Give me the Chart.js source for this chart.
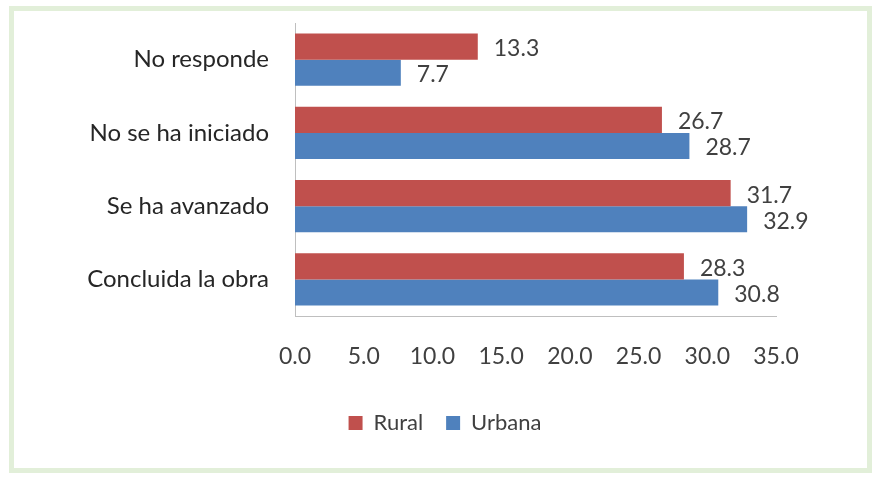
<!DOCTYPE html>
<html>
<head>
<meta charset="utf-8">
<script src="https://cdn.jsdelivr.net/npm/chart.js@4/dist/chart.umd.min.js"></script>
<style>
  html, body { margin: 0; padding: 0; background: #fff; }
  #wrap { position: relative; width: 877px; height: 485px; }
  #marco {
    position: absolute; left: 9px; top: 6px; width: 853px; height: 457px;
    border: 5px solid #e2efd9;
  }
  #grafico { position: absolute; left: 0; top: 0; }
</style>
</head>
<body>
<div id="wrap">
  <div id="marco"></div>
  <canvas id="grafico" width="877" height="485"></canvas>
</div>
<script>
// Estado de avance de la obra, por área
const categorias = ["No responde", "No se ha iniciado", "Se ha avanzado", "Concluida la obra"];
const rural = [13.3, 26.7, 31.7, 28.3];
const urbana = [7.7, 28.7, 32.9, 30.8];
const ejeX = { min: 0, max: 35, paso: 5 };

const fuente = "Lato, 'Open Sans', sans-serif";

// Escribe el valor a la derecha de cada barra
const etiquetasValor = {
  id: "etiquetasValor",
  afterDatasetsDraw(chart) {
    const ctx = chart.ctx;
    ctx.save();
    ctx.font = "23px " + fuente;
    ctx.fillStyle = "#404040";
    ctx.textBaseline = "middle";
    ctx.textAlign = "left";
    chart.data.datasets.forEach((ds, i) => {
      chart.getDatasetMeta(i).data.forEach((barra, j) => {
        ctx.fillText(ds.data[j].toFixed(1), barra.x + 16, barra.y + 2);
      });
    });
    ctx.restore();
  }
};

// Desplaza la leyenda hacia la derecha, bajo el centro del área de barras
const moverLeyenda = {
  id: "moverLeyenda",
  afterLayout(chart) {
    const l = chart.legend;
    if (!l) return;
    l.left += 57;
    l.right += 57;
  }
};

const ctx = document.getElementById("grafico").getContext("2d");
new Chart(ctx, {
  type: "bar",
  data: {
    labels: categorias,
    datasets: [
      { label: "Rural", data: rural, backgroundColor: "#c0504d" },
      { label: "Urbana", data: urbana, backgroundColor: "#4f81bd" }
    ]
  },
  options: {
    indexAxis: "y",
    responsive: false,
    animation: false,
    layout: { padding: { top: 23, right: 101, bottom: 41, left: 0 } },
    datasets: { bar: { categoryPercentage: 0.71, barPercentage: 1.0 } },
    scales: {
      x: {
        min: ejeX.min,
        max: ejeX.max,
        grid: { display: false, drawTicks: false },
        border: { display: true, color: "#bfbfbf", width: 1 },
        ticks: {
          stepSize: ejeX.paso,
          padding: 27,
          color: "#404040",
          font: { family: fuente, size: 23 },
          callback: (v) => Number(v).toFixed(1),
          maxRotation: 0
        },
        afterFit: (eje) => { eje.height = 73; }
      },
      y: {
        grid: { display: false, drawTicks: false },
        border: { display: true, color: "#bfbfbf", width: 1 },
        ticks: {
          padding: 26,
          color: "#262626",
          font: { family: fuente, size: 24 }
        },
        afterFit: (eje) => {
          eje.width = 295;
          eje.paddingTop = 0;
          eje.paddingBottom = 0;
        }
      }
    },
    plugins: {
      legend: {
        position: "bottom",
        labels: {
          boxWidth: 14,
          boxHeight: 14,
          padding: 23,
          color: "#404040",
          font: { family: fuente, size: 22 }
        }
      },
      tooltip: { enabled: false }
    }
  },
  plugins: [etiquetasValor, moverLeyenda]
});
</script>
</body>
</html>
